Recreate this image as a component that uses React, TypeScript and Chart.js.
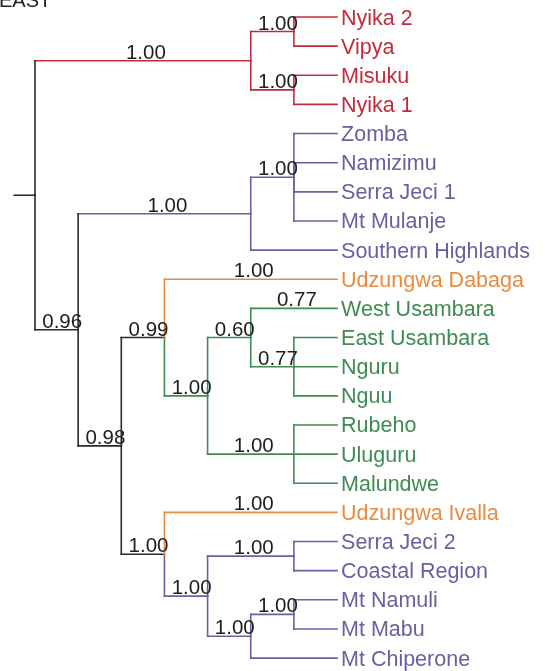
import React, { useEffect, useRef } from "react";
import { Chart, registerables } from "chart.js";

Chart.register(...registerables);

// ---- data ----
const title = "EAST";

const tipNames = [
  "Nyika 2", "Vipya", "Misuku", "Nyika 1",
  "Zomba", "Namizimu", "Serra Jeci 1", "Mt Mulanje", "Southern Highlands",
  "Udzungwa Dabaga",
  "West Usambara", "East Usambara", "Nguru", "Nguu", "Rubeho", "Uluguru", "Malundwe",
  "Udzungwa Ivalla",
  "Serra Jeci 2", "Coastal Region", "Mt Namuli", "Mt Mabu", "Mt Chiperone",
];
const tipGroups = [
  "red", "red", "red", "red",
  "purple", "purple", "purple", "purple", "purple",
  "orange",
  "green", "green", "green", "green", "green", "green", "green",
  "orange",
  "purple", "purple", "purple", "purple", "purple",
];
const tipSupport = [
  "", "", "", "",
  "", "", "", "", "",
  "1.00",
  "0.77", "", "", "", "", "", "",
  "1.00",
  "", "", "", "", "",
];

// internal nodes, ids 23..40 (tips are 0..22)
const nodeChildren = [
  [0, 1], [2, 3], [23, 24],
  [4, 5, 6, 7], [26, 8],
  [11, 12, 13], [10, 28], [14, 15, 16], [29, 30], [9, 31],
  [18, 19], [20, 21], [34, 22], [33, 35], [17, 36],
  [32, 37], [27, 38], [25, 39],
];
const nodeDepth = [6, 6, 5, 6, 5, 6, 5, 6, 4, 3, 6, 6, 5, 4, 3, 2, 1, 0];
const nodeSupport = [
  "1.00", "1.00", "1.00",
  "1.00", "1.00",
  "0.77", "0.60", "1.00", "1.00", "0.99",
  "1.00", "1.00", "1.00", "1.00", "1.00",
  "0.98", "0.96", "",
];
const nodeGroups = [
  "red", "red", "red",
  "purple", "purple",
  "green", "green", "green", "green", "black",
  "purple", "purple", "purple", "purple", "black",
  "black", "black", "black",
];
const blackJoins = [25, 27];
const tipDepth = 7;
const rootStubDepth = -0.48;

const groupColors: Record<string, string> = {
  red: "#c42a3c",
  purple: "#6a609f",
  green: "#3f8b52",
  orange: "#e98b3f",
  black: "#2a2a2a",
};

// ---- tree layout (in data units: depth levels and tip indices) ----
type NodeInfo = { depth: number; y: number; group: string; support: string; parent: number; children: number[] };

function buildTree(): NodeInfo[] {
  const nodes: NodeInfo[] = [];
  tipNames.forEach((_, i) =>
    nodes.push({ depth: tipDepth, y: i, group: tipGroups[i], support: tipSupport[i], parent: -1, children: [] })
  );
  nodeChildren.forEach((ch, k) =>
    nodes.push({ depth: nodeDepth[k], y: NaN, group: nodeGroups[k], support: nodeSupport[k], parent: -1, children: ch })
  );
  nodes.forEach((n, id) => n.children.forEach((c) => (nodes[c].parent = id)));
  const yOf = (id: number): number => {
    const n = nodes[id];
    if (!n.children.length) return n.y;
    const ys = n.children.map(yOf);
    n.y = (ys[0] + ys[ys.length - 1]) / 2;
    return n.y;
  };
  yOf(nodes.length - 1);
  return nodes;
}

export default function App() {
  const ref = useRef<HTMLCanvasElement | null>(null);

  useEffect(() => {
    if (!ref.current) return;
    const nodes = buildTree();
    const rootId = nodes.length - 1;
    const datasets: any[] = [];
    const seg = (x1: number, y1: number, x2: number, y2: number, color: string) =>
      datasets.push({
        data: [{ x: x1, y: y1 }, { x: x2, y: y2 }],
        borderColor: color,
        borderWidth: 1.6,
        borderCapStyle: "square",
        pointRadius: 0,
        showLine: true,
        fill: false,
      });

    nodes.forEach((n, id) => {
      if (n.parent < 0) return;
      const p = nodes[n.parent];
      const vColor = blackJoins.includes(id) ? groupColors.black : groupColors[n.group];
      seg(p.depth, p.y, p.depth, n.y, vColor);
      seg(p.depth, n.y, n.depth, n.y, groupColors[n.group]);
    });
    const root = nodes[rootId];
    seg(rootStubDepth, root.y, root.depth, root.y, groupColors.black);

    const labelPlugin = {
      id: "treeLabels",
      afterDatasetsDraw(chart: any) {
        const ctx = chart.ctx;
        const xs = chart.scales.x;
        const ys = chart.scales.y;
        ctx.save();
        // title
        ctx.fillStyle = "#222";
        ctx.font = '20px "Liberation Sans", Arial, sans-serif';
        ctx.textAlign = "left";
        ctx.textBaseline = "alphabetic";
        ctx.fillText(title, -1, 7);
        // tip names
        ctx.font = '21.5px "Liberation Sans", Arial, sans-serif';
        tipNames.forEach((name, i) => {
          ctx.fillStyle = groupColors[tipGroups[i]];
          ctx.fillText(name, xs.getPixelForValue(tipDepth) + 4, ys.getPixelForValue(i) + 7.5);
        });
        // support values
        ctx.font = '20.5px "Liberation Sans", Arial, sans-serif';
        ctx.fillStyle = "#1e1e1e";
        nodes.forEach((n) => {
          if (n.parent < 0 || !n.support) return;
          const p = nodes[n.parent];
          const py = ys.getPixelForValue(n.y) - 2;
          const x1 = xs.getPixelForValue(p.depth);
          const x2 = xs.getPixelForValue(n.depth);
          if (n.depth - p.depth <= 1) {
            ctx.textAlign = "right";
            ctx.fillText(n.support, x2 + 4, py);
          } else {
            ctx.textAlign = "center";
            ctx.fillText(n.support, (x1 + x2) / 2 + 3, py);
          }
        });
        ctx.restore();
      },
    };

    const chart = new Chart(ref.current, {
      type: "scatter",
      data: { datasets },
      options: {
        animation: false,
        responsive: true,
        maintainAspectRatio: false,
        layout: { padding: 0 },
        plugins: { legend: { display: false }, tooltip: { enabled: false } },
        scales: {
          x: { type: "linear", display: false, min: -0.811, max: 11.773 },
          y: { type: "linear", display: false, reverse: true, min: -0.5834, max: 22.443 },
        },
      },
      plugins: [labelPlugin],
    });
    return () => chart.destroy();
  }, []);

  return (
    <div style={{ position: "absolute", left: 0, top: 0, width: 543, height: 671, background: "#fff" }}>
      <canvas ref={ref} />
    </div>
  );
}
